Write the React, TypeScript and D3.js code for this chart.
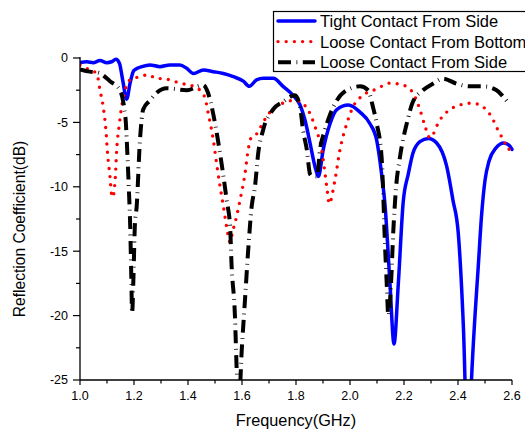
import React from "react";
import * as d3 from "d3";

// ---------- data ----------
const tightFreq = [1.0, 1.025, 1.049, 1.074, 1.099, 1.117, 1.133, 1.146, 1.158, 1.173, 1.185, 1.197, 1.204, 1.229, 1.259, 1.296, 1.333, 1.37, 1.395, 1.42, 1.457, 1.494, 1.531, 1.568, 1.605, 1.627, 1.654, 1.679, 1.716, 1.752, 1.789, 1.815, 1.833, 1.852, 1.87, 1.883, 1.901, 1.926, 1.951, 1.994, 2.037, 2.074, 2.099, 2.117, 2.13, 2.148, 2.163, 2.179, 2.197, 2.216, 2.233, 2.259, 2.29, 2.321, 2.358, 2.381, 2.401, 2.42, 2.438, 2.45, 2.463, 2.475, 2.487, 2.5, 2.515, 2.54, 2.57, 2.59, 2.6];
const tightDb = [-0.36, -0.29, -0.36, -0.2, -0.36, -0.29, -0.1, -0.4, -1.7, -3.2, -2.0, -1.06, -0.9, -0.67, -0.54, -0.67, -0.54, -0.54, -0.8, -1.2, -0.93, -1.06, -1.2, -1.45, -1.8, -2.2, -1.7, -1.58, -1.58, -2.2, -2.9, -3.65, -4.8, -6.6, -8.4, -9.2, -7.1, -5.1, -4.0, -3.65, -4.2, -5.1, -6.4, -9.0, -11.5, -17.5, -22.2, -17.5, -11.2, -9.0, -7.4, -6.5, -6.25, -6.6, -8.4, -11.0, -13.6, -20.9, -32, -25, -20, -16.2, -12.3, -9.5, -8.0, -7.0, -6.6, -6.8, -7.1];

const bottomFreq = [1.0, 1.037, 1.062, 1.074, 1.086, 1.096, 1.102, 1.111, 1.117, 1.121, 1.13, 1.136, 1.146, 1.154, 1.167, 1.185, 1.222, 1.253, 1.284, 1.309, 1.346, 1.383, 1.42, 1.444, 1.463, 1.475, 1.494, 1.506, 1.519, 1.531, 1.543, 1.556, 1.565, 1.58, 1.593, 1.611, 1.623, 1.636, 1.654, 1.678, 1.704, 1.752, 1.789, 1.8, 1.822, 1.844, 1.87, 1.895, 1.914, 1.923, 1.944, 1.963, 1.988, 2.011, 2.048, 2.099, 2.148, 2.196, 2.233, 2.259, 2.278, 2.296, 2.333, 2.37, 2.407, 2.451, 2.493, 2.525, 2.548, 2.574, 2.585, 2.6];
const bottomDb = [-0.54, -0.93, -1.2, -2.5, -3.8, -5.6, -7.4, -9.2, -10.6, -10.8, -9.5, -7.1, -5.1, -3.8, -2.5, -1.7, -1.45, -1.3, -1.6, -1.6, -1.8, -2.0, -2.2, -2.5, -3.1, -4.3, -6.4, -8.2, -10.0, -11.5, -13.1, -14.3, -13.5, -12.3, -11.0, -9.0, -7.1, -6.1, -5.9, -5.0, -4.2, -3.5, -3.3, -3.3, -3.5, -4.0, -5.3, -7.1, -10.0, -11.3, -9.5, -7.1, -5.1, -3.8, -2.9, -2.4, -1.95, -2.1, -2.7, -4.0, -5.3, -6.2, -4.8, -4.0, -3.65, -3.5, -3.8, -4.6, -5.6, -6.6, -7.1, -7.0];

const sideFreq = [1.0, 1.037, 1.068, 1.111, 1.148, 1.16, 1.17, 1.176, 1.181, 1.186, 1.19, 1.193, 1.198, 1.203, 1.21, 1.222, 1.234, 1.259, 1.284, 1.321, 1.395, 1.456, 1.474, 1.493, 1.511, 1.53, 1.543, 1.556, 1.561, 1.574, 1.58, 1.588, 1.599, 1.611, 1.623, 1.636, 1.648, 1.66, 1.678, 1.715, 1.752, 1.796, 1.815, 1.826, 1.84, 1.852, 1.863, 1.878, 1.889, 1.907, 1.926, 1.951, 1.988, 2.037, 2.067, 2.085, 2.099, 2.117, 2.123, 2.128, 2.136, 2.142, 2.152, 2.16, 2.17, 2.185, 2.21, 2.233, 2.27, 2.307, 2.345, 2.395, 2.444, 2.493, 2.543, 2.567, 2.593];
const sideDb = [-0.88, -1.06, -1.14, -1.8, -2.5, -3.4, -5.1, -7.7, -10.2, -13.1, -17.0, -19.8, -17.0, -13.1, -11.5, -6.4, -4.0, -3.3, -2.7, -2.35, -2.5, -2.1, -2.7, -4.3, -6.4, -9.0, -11.0, -13.1, -15.9, -20.1, -24.0, -27.0, -22.7, -18.8, -14.9, -11.5, -10.0, -7.4, -5.6, -4.0, -3.4, -2.9, -3.8, -5.6, -7.1, -9.0, -9.2, -9.2, -7.1, -5.6, -4.4, -3.3, -2.5, -2.2, -2.5, -3.8, -5.1, -7.7, -10.5, -13.6, -17.5, -20.0, -17.5, -13.6, -10.2, -7.7, -5.1, -3.4, -2.5, -2.0, -1.6, -2.0, -2.2, -2.2, -2.5, -3.0, -3.65];

const seriesNames = ["Tight Contact From Side", "Loose Contact From Bottom", "Loose Contact From Side"];
const xTicks = [1.0, 1.2, 1.4, 1.6, 1.8, 2.0, 2.2, 2.4, 2.6];
const yTicks = [0, -5, -10, -15, -20, -25];

// ---------- layout ----------
const W = 525, H = 429;
const x0 = 80, x1 = 512, yTop = 58, yBot = 380;

export default function App() {
  const x = d3.scaleLinear().domain([1.0, 2.6]).range([x0, x1]);
  const y = d3.scaleLinear().domain([0, -25]).range([yTop, yBot]);
  const line = d3
    .line<[number, number]>()
    .x((d) => x(d[0]))
    .y((d) => y(d[1]))
    .curve(d3.curveMonotoneX);

  const zip = (a: number[], b: number[]) => a.map((v, i) => [v, b[i]] as [number, number]);

  const series = [
    { name: seriesNames[0], data: zip(tightFreq, tightDb), color: "#0000ff", width: 3.5, dash: "none", cap: "round" },
    { name: seriesNames[1], data: zip(bottomFreq, bottomDb), color: "#ff0000", width: 3.4, dash: "0 8.2", cap: "round" },
    { name: seriesNames[2], data: zip(sideFreq, sideDb), color: "#000000", width: 4, dash: "13 5.5 0.8 5.5", cap: "butt" },
  ];

  const xMinor = d3.range(1.0, 2.61, 0.1);
  const yMinor = d3.range(0, -25.1, -2.5);
  const font = "'Liberation Sans', Arial, sans-serif";

  return (
    <svg width={W} height={H} style={{ position: "absolute", left: 0, top: 0, background: "#fff" }} fontFamily={font}>
      <defs>
        <clipPath id="plotClip">
          <rect x={x0} y={0} width={W - x0} height={yBot - 0} />
        </clipPath>
      </defs>
      <rect width={W} height={H} fill="#fff" />
      <g clipPath="url(#plotClip)">
        {series.map((s) => (
          <path
            key={s.name}
            d={line(s.data) || ""}
            fill="none"
            stroke={s.color}
            strokeWidth={s.width}
            strokeDasharray={s.dash}
            strokeLinecap={s.cap as any}
            strokeLinejoin="round"
          />
        ))}
      </g>
      {/* axes */}
      <line x1={x0} x2={x0} y1={yTop - 1} y2={yBot} stroke="#000" strokeWidth={1.3} />
      <line x1={x0} x2={x1} y1={yBot} y2={yBot} stroke="#000" strokeWidth={1.3} />
      {yMinor.map((v) => (
        <line key={"ym" + v} x1={x0 - (Math.abs(v % 5) < 0.01 ? 7 : 4)} x2={x0} y1={y(v)} y2={y(v)} stroke="#000" strokeWidth={1.2} />
      ))}
      {xMinor.map((v, i) => (
        <line key={"xm" + i} x1={x(v)} x2={x(v)} y1={yBot} y2={yBot + (i % 2 === 0 ? 5 : 3.5)} stroke="#000" strokeWidth={1.2} />
      ))}
      {yTicks.map((v) => (
        <text key={"yt" + v} x={x0 - 12} y={y(v)} dy="0.35em" textAnchor="end" fontSize={12.5} fill="#000">
          {v}
        </text>
      ))}
      {xTicks.map((v) => (
        <text key={"xt" + v} x={x(v)} y={yBot + 20} textAnchor="middle" fontSize={12.5} fill="#000">
          {v.toFixed(1)}
        </text>
      ))}
      <text x={296} y={426} textAnchor="middle" fontSize={16.3} fill="#000">
        Frequency(GHz)
      </text>
      <text transform={`translate(25,229) rotate(-90)`} textAnchor="middle" fontSize={15.6} fill="#000">
        Reflection Coefficient(dB)
      </text>
      {/* legend */}
      <rect x={273.5} y={11.5} width={270} height={60} fill="#fff" stroke="#000" strokeWidth={1.2} />
      {series.map((s, i) => {
        const ly = 21 + i * 20.6;
        return (
          <g key={"lg" + i}>
            <line x1={278} x2={315} y1={ly} y2={ly} stroke={s.color} strokeWidth={s.width} strokeDasharray={s.dash} strokeLinecap={s.cap as any} />
            <text x={320} y={ly} dy="0.36em" fontSize={16.5} fill="#000">
              {s.name}
            </text>
          </g>
        );
      })}
    </svg>
  );
}
